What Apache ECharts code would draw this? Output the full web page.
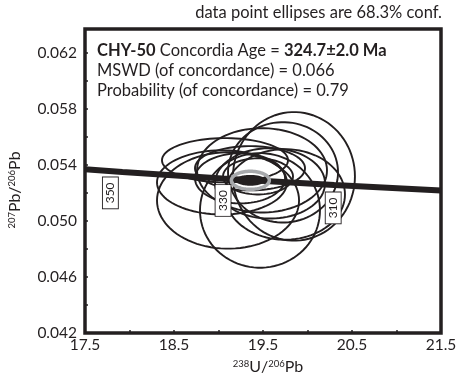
<!DOCTYPE html>
<html>
<head>
<meta charset="utf-8">
<script src="https://cdn.jsdelivr.net/npm/echarts@6/dist/echarts.min.js"></script>
<style>
  html, body { margin: 0; padding: 0; background: #fff; }
  #chart { width: 460px; height: 378px; }
</style>
</head>
<body>
<div id="chart"></div>
<script>
// Tera-Wasserburg concordia curve: 238U/206Pb vs 207Pb/206Pb
const concordiaX = [17.5, 17.92, 19.04, 20.30, 21.5];
const concordiaY = [0.05369, 0.05350, 0.05303, 0.05257, 0.05217];

// Age ticks on the curve (Ma)
const ageLabels = ['350', '330', '310'];
const ageX = [17.92, 19.04, 20.30];
const ageY = [0.05350, 0.05303, 0.05257];

// Spot analyses: centre and 1-sigma half-axes
const spotX  = [19.073, 19.039, 19.107, 19.466, 19.848, 19.725, 19.489, 19.354, 19.579, 19.242, 19.747, 19.444];
const spotY  = [0.05433, 0.05275, 0.05146, 0.05075, 0.05318, 0.05347, 0.05361, 0.05376, 0.05268, 0.05304, 0.05189, 0.05318];
const spotSX = [0.708, 0.730, 0.798, 0.674, 0.685, 0.618, 0.730, 0.618, 0.618, 0.506, 0.674, 0.393];
const spotSY = [0.00158, 0.00229, 0.00344, 0.00409, 0.00459, 0.00358, 0.00301, 0.00158, 0.00251, 0.00179, 0.00323, 0.00129];

// Concordia age 324.7 ± 2.0 Ma
const concAgeX = 19.358, concAgeY = 0.05290, concAgeSX = 0.213, concAgeSY = 0.000645;

// Axis tick values
const xLabelValues = [17.5, 18.5, 19.5, 20.5, 21.5];
const xTickValues = [17.5, 18, 18.5, 19, 19.5, 20, 20.5, 21, 21.5];
const yLabelValues = [0.042, 0.046, 0.050, 0.054, 0.058, 0.062];
const yTickValues = [0.042, 0.044, 0.046, 0.048, 0.050, 0.052, 0.054, 0.056, 0.058, 0.060, 0.062];

const INK = '#231f20';
const FONT = 'Lato';

function ellipsePoints(api, cx, cy, sx, sy) {
  const pts = [];
  const n = 90;
  for (let k = 0; k < n; k++) {
    const t = (k / n) * Math.PI * 2;
    pts.push(api.coord([cx + sx * Math.cos(t), cy + sy * Math.sin(t)]));
  }
  return pts;
}

const spotData = spotX.map((x, i) => [x, spotY[i], spotSX[i], spotSY[i]]);
const concordiaData = concordiaX.map((x, i) => [x, concordiaY[i]]);
// label boxes sit just below their tick on the curve
const labelShift = [[-12, 21], [1, 22], [-1, 23]];
const ageData = ageX.map((x, i) => [x, ageY[i], i]);

const chart = echarts.init(document.getElementById('chart'), null, { renderer: 'canvas' });

chart.setOption({
  animation: false,
  backgroundColor: '#fff',
  grid: {
    left: 85, right: 19, top: 29, bottom: 45,
    show: true, borderColor: INK, borderWidth: 3.5, backgroundColor: 'transparent'
  },
  xAxis: {
    type: 'value', min: 17.5, max: 21.5,
    axisLine: { show: false },
    splitLine: { show: false },
    axisTick: { show: true, inside: true, length: 3, customValues: xTickValues, lineStyle: { color: INK, width: 1.5 } },
    axisLabel: {
      customValues: xLabelValues, margin: 4,
      fontFamily: FONT, fontSize: 15.5, color: INK,
      formatter: v => v.toFixed(1)
    }
  },
  yAxis: {
    type: 'value', min: 0.042, max: 0.0637,
    axisLine: { show: false },
    splitLine: { show: false },
    axisTick: { show: true, inside: true, length: 3, customValues: yTickValues, lineStyle: { color: INK, width: 1.5 } },
    axisLabel: {
      customValues: yLabelValues, margin: 8,
      fontFamily: FONT, fontSize: 15.5, color: INK,
      formatter: v => v.toFixed(3)
    }
  },
  series: [
    {
      type: 'custom',
      z: 2,
      data: spotData,
      encode: { x: 0, y: 1 },
      renderItem: (params, api) => ({
        type: 'polygon',
        shape: { points: ellipsePoints(api, api.value(0), api.value(1), api.value(2), api.value(3)) },
        style: { fill: 'none', stroke: INK, lineWidth: 1.9 }
      })
    },
    {
      type: 'line',
      z: 3,
      data: concordiaData,
      showSymbol: false,
      symbol: 'none',
      lineStyle: { color: INK, width: 6 }
    },
    {
      type: 'custom',
      z: 4,
      data: [[concAgeX, concAgeY, concAgeSX, concAgeSY]],
      encode: { x: 0, y: 1 },
      renderItem: (params, api) => ({
        type: 'group',
        children: [
          {
            type: 'polygon',
            shape: { points: ellipsePoints(api, api.value(0), api.value(1), api.value(2) * 0.8, api.value(3) * 0.6) },
            style: { fill: INK, stroke: 'none' }
          },
          {
            type: 'polygon',
            shape: { points: ellipsePoints(api, api.value(0), api.value(1), api.value(2), api.value(3)) },
            style: { fill: 'none', stroke: '#a7a9ac', lineWidth: 3.5 }
          }
        ]
      })
    },
    {
      type: 'custom',
      z: 5,
      data: ageData,
      encode: { x: 0, y: 1 },
      renderItem: (params, api) => {
        const i = api.value(2);
        const p = api.coord([api.value(0), api.value(1)]);
        return {
          type: 'text',
          x: p[0] + labelShift[i][0],
          y: p[1] + labelShift[i][1],
          rotation: Math.PI / 2,
          style: {
            text: ageLabels[i],
            fontFamily: FONT, fontSize: 12, fill: INK,
            align: 'center', verticalAlign: 'middle',
            backgroundColor: '#fff', borderColor: INK, borderWidth: 0.9,
            padding: [2, 5, 1, 5]
          }
        };
      }
    }
  ],
  graphic: [
    {
      type: 'text', right: 18, top: 4,
      style: { text: 'data point ellipses are 68.3% conf.', fontFamily: FONT, fontSize: 16.5, fill: INK }
    },
    {
      type: 'text', left: 97, top: 40.5,
      style: {
        text: '{b|CHY-50} Concordia Age = {b|324.7±2.0 Ma}\nMSWD (of concordance) = 0.066\nProbability (of concordance) = 0.79',
        fontFamily: FONT, fontSize: 16.5, fill: INK, lineHeight: 20,
        rich: { b: { fontFamily: FONT, fontSize: 16.5, fontWeight: 'bold', fill: INK, lineHeight: 20 } }
      }
    },
    {
      type: 'text', x: 268, y: 367,
      style: {
        text: '{s|238}U/{s|206}Pb',
        fontFamily: FONT, fontSize: 16, fill: INK, align: 'center', verticalAlign: 'middle',
        rich: { s: { fontFamily: FONT, fontSize: 9.5, fill: INK, verticalAlign: 'top', padding: [0, 0, 7, 0] } }
      }
    },
    {
      type: 'text', x: 15, y: 190, rotation: Math.PI / 2,
      style: {
        text: '{s|207}Pb/{s|206}Pb',
        fontFamily: FONT, fontSize: 16, fill: INK, align: 'center', verticalAlign: 'middle',
        rich: { s: { fontFamily: FONT, fontSize: 9.5, fill: INK, verticalAlign: 'top', padding: [0, 0, 7, 0] } }
      }
    }
  ]
});
</script>
</body>
</html>
